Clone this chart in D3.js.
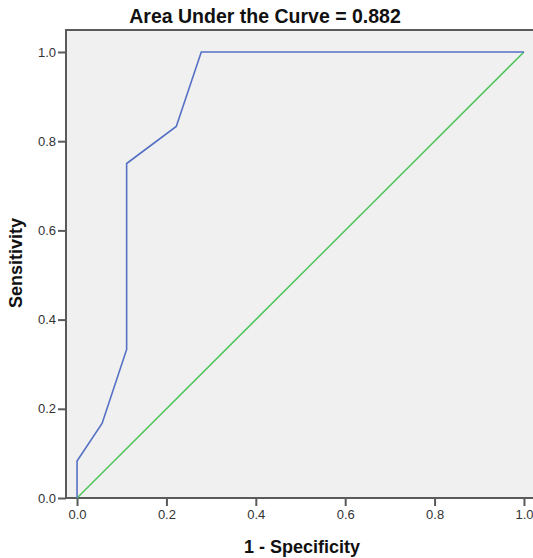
<!DOCTYPE html>
<html>
<head>
<meta charset="utf-8">
<script src="https://cdn.jsdelivr.net/npm/d3@7"></script>
<style>
  body { margin: 0; background: #fff; }
  text { font-family: "Liberation Sans", Arial, sans-serif; }
</style>
</head>
<body>
<div id="roc-chart"></div>
<script>
'use strict';

// ROC curve points (1 - specificity, sensitivity)
const fpr = [0, 0, 0.056, 0.111, 0.111, 0.222, 0.278, 1.0];
const tpr = [0, 0.083, 0.167, 0.333, 0.75, 0.833, 1.0, 1.0];
// reference diagonal
const refX = [0, 1];
const refY = [0, 1];
const tickValues = [0, 0.2, 0.4, 0.6, 0.8, 1.0];
const title = 'Area Under the Curve = 0.882';

const settings = {
    width: 533,
    height: 558,
    elId: '#roc-chart'
};

const plot = { left: 66, top: 30, right: 535, bottom: 498 };

const svg = d3.select(settings.elId)
    .append('svg')
    .attr('width', settings.width)
    .attr('height', settings.height);

const x = d3.scaleLinear()
    .domain([-0.0247, 1.0247])
    .range([plot.left, plot.right]);

const y = d3.scaleLinear()
    .domain([0, 1.0493])
    .range([plot.bottom, plot.top]);

// plot background
svg.append('rect')
    .attr('x', plot.left)
    .attr('y', plot.top)
    .attr('width', plot.right - plot.left)
    .attr('height', plot.bottom - plot.top)
    .attr('fill', '#f0f0f0')
    .attr('stroke', '#5a5a5a')
    .attr('stroke-width', 2);

// axes
const xAxis = svg.append('g')
    .attr('transform', `translate(0,${plot.bottom})`)
    .call(d3.axisBottom(x).tickValues(tickValues).tickFormat(d3.format('.1f')).tickSize(8).tickSizeOuter(0));

const yAxis = svg.append('g')
    .attr('transform', `translate(${plot.left},0)`)
    .call(d3.axisLeft(y).tickValues(tickValues).tickFormat(d3.format('.1f')).tickSize(8).tickSizeOuter(0));

[xAxis, yAxis].forEach(ax => {
    ax.select('.domain').remove();
    ax.selectAll('line').attr('stroke', '#5a5a5a').attr('stroke-width', 2);
    ax.selectAll('text')
        .attr('fill', '#333')
        .style('font-size', '13px');
});
xAxis.selectAll('text').attr('dy', '0.9em').attr('y', 9);
yAxis.selectAll('text').attr('x', -10);

// redraw axis line on top of ticks
svg.append('line')
    .attr('x1', plot.left).attr('x2', plot.right)
    .attr('y1', plot.bottom).attr('y2', plot.bottom)
    .attr('stroke', '#5a5a5a').attr('stroke-width', 2);

const line = d3.line()
    .x(d => x(d[0]))
    .y(d => y(d[1]));

svg.append('path')
    .datum(d3.zip(refX, refY))
    .attr('d', line)
    .attr('fill', 'none')
    .attr('stroke', '#4dc55a')
    .attr('stroke-width', 1.5);

svg.append('path')
    .datum(d3.zip(fpr, tpr))
    .attr('d', line)
    .attr('fill', 'none')
    .attr('stroke', '#5570c4')
    .attr('stroke-width', 1.6);

// title
svg.append('text')
    .text(title)
    .attr('x', 265)
    .attr('y', 23)
    .attr('text-anchor', 'middle')
    .attr('font-weight', 'bold')
    .attr('font-size', '19.5px')
    .attr('fill', '#111');

// axis titles
svg.append('text')
    .text('1 - Specificity')
    .attr('x', 302)
    .attr('y', 553)
    .attr('text-anchor', 'middle')
    .attr('font-weight', 'bold')
    .attr('font-size', '18px')
    .attr('fill', '#111');

svg.append('text')
    .text('Sensitivity')
    .attr('transform', `translate(22,263) rotate(-90)`)
    .attr('text-anchor', 'middle')
    .attr('font-weight', 'bold')
    .attr('font-size', '18px')
    .attr('fill', '#111');
</script>
</body>
</html>
